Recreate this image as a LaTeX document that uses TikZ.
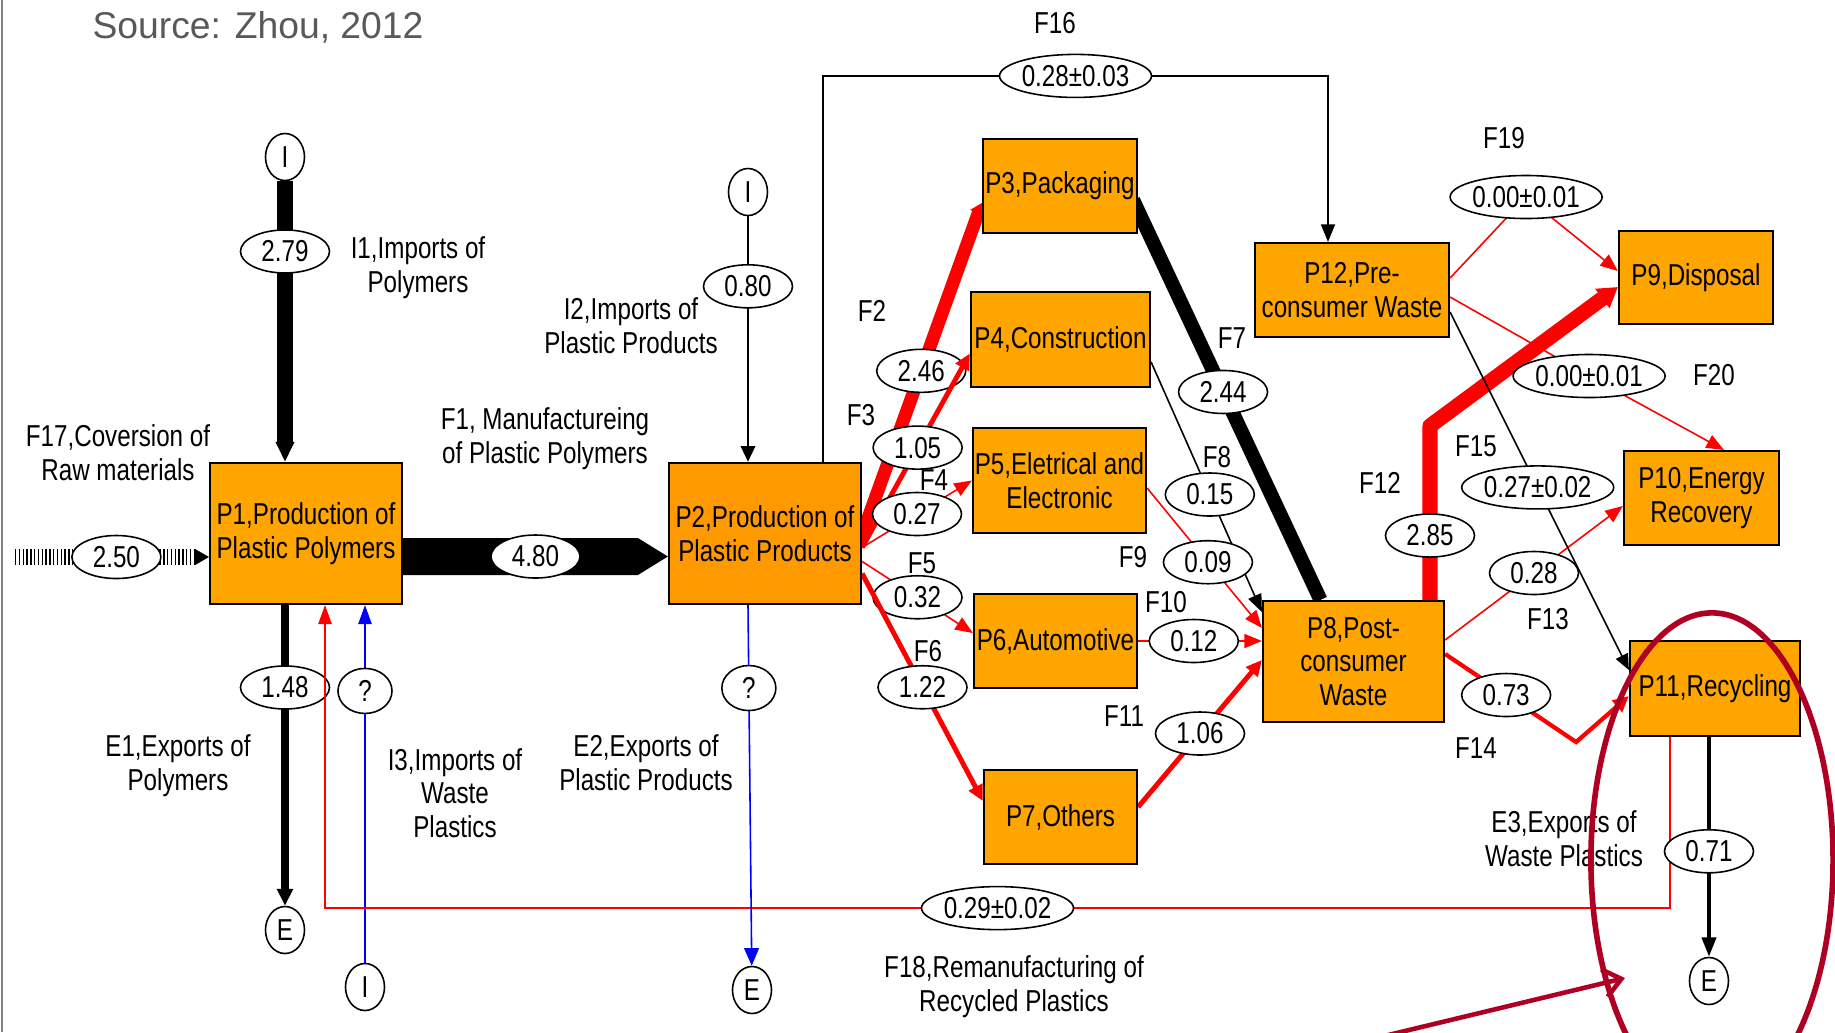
\documentclass[tikz,border=0pt]{standalone}
\usepackage{fontspec}
\setmainfont{Liberation Sans}[FakeStretch=0.8]
\newfontfamily\srcfont{Liberation Sans}
\usetikzlibrary{shapes.geometric,arrows.meta,calc}
\definecolor{procorange}{RGB}{255,165,0}
\definecolor{procdeep}{RGB}{255,153,0}
\definecolor{markred}{RGB}{175,0,35}
\definecolor{srcgray}{RGB}{89,89,89}
\pgfdeclarelayer{bg}
\pgfsetlayers{bg,main}
\tikzset{
  txt/.style={font=\fontsize{8.6}{9.6}\selectfont, align=center, inner sep=0pt},
  proc/.style={txt, draw, line width=0.6pt, fill=procorange},
  val/.style={txt, ellipse, draw=black, text=black, solid, fill=white, line width=0.45pt, minimum width=0.89cm, minimum height=0.43cm},
  wval/.style={val, minimum width=1.5cm},
  io/.style={val, minimum width=0.39cm, minimum height=0.47cm},
  ask/.style={val, minimum width=0.54cm, minimum height=0.45cm},
  flowthin/.style={line width=0.45pt},
  tipthin/.style={-{Triangle[length=5pt,width=4pt]}},
  redthin/.style={flowthin, red, tipthin},
  redmid/.style={red, line width=1.4pt, -{Triangle[length=4.5pt,width=4.2pt]}},
}
\begin{document}
\begin{tikzpicture}[x=0.01cm, y=-0.01cm]
\useasboundingbox (0,0) rectangle (1835,1032);
\draw[gray, line width=0.5pt] (2,0) -- (2,1032);
\node[font=\srcfont\fontsize{10.6}{12}\selectfont, text=srcgray, inner sep=0pt] (src) at (258,27) {Source: Zhou, 2012};

% processes
\node[proc, minimum width=1.92cm, minimum height=1.41cm] (p1) at (306,533.5) {P1,Production of\\Plastic Polymers};
\node[proc, fill=procdeep, minimum width=1.92cm, minimum height=1.41cm] (p2) at (765,533.5) {P2,Production of\\Plastic Products};
\node[proc, minimum width=1.54cm, minimum height=0.94cm] (p3) at (1060,186) {P3,Packaging};
\node[proc, minimum width=1.79cm, minimum height=0.95cm] (p4) at (1060.5,339.5) {P4,Construction};
\node[proc, minimum width=1.73cm, minimum height=1.05cm] (p5) at (1059.5,480.5) {P5,Eletrical and\\Electronic};
\node[proc, minimum width=1.63cm, minimum height=0.94cm] (p6) at (1055.5,641) {P6,Automotive};
\node[proc, minimum width=1.53cm, minimum height=0.94cm] (p7) at (1060.5,817) {P7,Others};
\node[proc, minimum width=1.81cm, minimum height=1.21cm] (p8) at (1353.5,661.5) {P8,Post-\\consumer\\Waste};
\node[proc, minimum width=1.54cm, minimum height=0.93cm] (p9) at (1696,277.5) {P9,Disposal};
\node[proc, minimum width=1.55cm, minimum height=0.94cm] (p10) at (1701.5,498) {P10,Energy\\Recovery};
\node[proc, minimum width=1.70cm, minimum height=0.95cm] (p11) at (1715,688.5) {P11,Recycling};
\node[proc, minimum width=1.94cm, minimum height=0.94cm] (p12) at (1352,290) {P12,Pre-\\consumer Waste};

% imports and exports
\node[io] (vI1) at (285,157) {I};
\node[io] (vI2) at (748,192) {I};
\node[io] (vE1) at (285,930) {E};
\node[io] (vI3) at (365,987) {I};
\node[io] (vE2) at (752,990) {E};
\node[io] (vE3) at (1709,981) {E};

% labels
\node[txt] (li1) at (418,268) {I1,Imports of\\Polymers};
\node[txt] (lf17) at (118,453) {F17,Coversion of\\Raw materials};
\node[txt] (li2) at (631,326) {I2,Imports of\\Plastic Products};
\node[txt] (lf1) at (545,439) {F1, Manufactureing\\of Plastic Polymers};
\node[txt] (le1) at (178,766) {E1,Exports of\\Polymers};
\node[txt] (li3) at (455,793) {I3,Imports of\\Waste\\Plastics};
\node[txt] (le2) at (646,763) {E2,Exports of\\Plastic Products};
\node[txt] (lf18) at (1014,987) {F18,Remanufacturing of\\Recycled Plastics};
\node[txt] (le3) at (1564,839) {E3,Exports of\\Waste Plastics};
\foreach \n/\x/\y in {2/872/311, 3/861/415, 4/934/480, 5/922/563, 6/928/651, 7/1232/338, 8/1217/457, 9/1133/557, 10/1166/602, 11/1124/716, 12/1380/483, 13/1548/619, 14/1476/748, 15/1476/446, 16/1055/23, 19/1504/138, 20/1714/375}
  \node[txt] (lf\n) at (\x,\y) {F\n};

\begin{pgfonlayer}{bg}
% F17 and F1
\coordinate (f17in) at (15,557);
\draw[line width=0.16cm, dash pattern=on 0.42pt off 0.66pt] (f17in) -- ($(f17in -| p1.west)+(-14,0)$);
\draw[line width=0.1pt, -{Triangle[length=4pt,width=4.6pt]}] ($(f17in -| p1.west)+(-15,0)$) -- (f17in -| p1.west);
\path (f17in) -- node[val, pos=0.523] (v250) {2.50} (f17in -| p1.west);
\fill ($(p1.east)+(0,4.5)$) -- ($(p2.west)+(-30,4.5)$) -- ($(p2.west)+(0,23)$) -- ($(p2.west)+(-30,41.5)$) -- ($(p1.east)+(0,41.5)$) -- cycle;
\path ($(p1.east)+(0,23)$) -- node[val] (v480) {4.80} ($(p2.west)+(0,23)$);
% I1, E1, I3, F18
\draw[line width=4.5pt, -{Triangle[length=5.7pt,width=5pt]}] (vI1) -- node[val, pos=0.25] (v279) {2.79} (vI1 |- p1.north);
\draw[line width=2.3pt, -{Triangle[length=4.8pt,width=4.4pt]}] (p1.south -| vE1) -- node[val, pos=0.274] (v148) {1.48} (vE1);
\draw[blue, flowthin, -{Triangle[length=5.4pt,width=3.8pt]}] (vI3) -- node[ask, pos=0.76] (vq1) {?} (vI3 |- p1.south);
\draw[red, flowthin, -{Triangle[length=5.4pt,width=3.8pt]}] ($(p11.south)+(-45,0)$) |- node[wval, pos=0.75] (v18) {0.29±0.02} ($(p1.south)+(19,303)$) -- ($(p1.south)+(19,0)$);
% I2, E2, F16
\draw[line width=0.85pt, -{Triangle[length=4.5pt,width=4pt]}] (vI2) -- node[val, pos=0.285] (v080) {0.80} (vI2 |- p2.north);
\draw[blue, flowthin, -{Triangle[length=5pt,width=4.2pt]}] ($(p2.south)+(-17,0)$) -- node[ask, pos=0.23] (vq2) {?} (vE2);
\draw[flowthin, tipthin] ($(p2.north)+(58,0)$) -- ++(0,-386) -- node[wval] (v16) {0.28±0.03} ++(505,0) -- ($(p12.north)+(-24,0)$);
% F2 to F6
\draw[red, line width=3.7pt, -{Triangle[length=3pt,width=4.8pt]}] ($(p2.east)+(-4,12)$) -- node[val, pos=0.51] (v246) {2.46} ($(p3.west)+(0,17)$);
\draw[redmid] ($(p2.east)+(0,14)$) -- node[val, pos=0.515] (v105) {1.05} ($(p4.west)+(0,14)$);
\draw[redthin] ($(p2.east)+(0,14)$) -- node[val] (v027) {0.27} (p5.west);
\draw[redthin] ($(p2.east)+(0,28)$) -- node[val] (v032) {0.32} ($(p6.west)+(0,-8)$);
\draw[redmid] ($(p2.east)+(0,40)$) -- node[val] (v122) {1.22} ($(p7.west)+(0,-16)$);
% F7 to F11
\draw[line width=4pt] ($(p3.east)+(-5,14)$) -- node[val, pos=0.48] (v244) {2.44} ($(p8.north)+(-33,0)$);
\draw[flowthin, tipthin] ($(p4.east)+(0,22.5)$) -- node[val, pos=0.53] (v015) {0.15} ($(p8.west)+(0,-49.5)$);
\draw[redthin] ($(p5.east)+(0,7.5)$) -- node[val, pos=0.53] (v009) {0.09} ($(p8.west)+(0,-33.5)$);
\draw[redthin] (p6.east) -- node[val, pos=0.45] (v012) {0.12} (p6.east -| p8.west);
\draw[redmid] ($(p7.east)+(0,-10)$) -- node[val] (v106) {1.06} ($(p8.west)+(0,-1.5)$);
% F12 to F15
\draw[red, line width=4.3pt, line join=round, -{Triangle[length=5.5pt,width=6.5pt]}] ($(p8.north)+(76.5,0)$) -- node[val, pos=0.37] (v285) {2.85} ++(0,-174) -- ($(p9.west)+(0,9.5)$);
\draw[redthin] ($(p8.east)+(0,-21.5)$) -- node[val] (v028) {0.28} ($(p10.west)+(0,8)$);
\draw[red, line width=1.2pt, -{Triangle[length=4.5pt,width=4.2pt]}] ($(p8.east)+(0,-7.5)$) -- node[val, pos=0.466] (v073) {0.73} ++(131,88) -- ($(p11.west)+(0,7.5)$);
\draw[flowthin, -{Triangle[length=4.5pt,width=3.8pt]}] ($(p12.east)+(0,22)$) -- node[wval, pos=0.49] (v15) {0.27±0.02} ($(p11.west)+(0,-18.5)$);
% F19, F20, E3
\draw[redthin] ($(p12.east)+(0,-12)$) -- ++(76,-81) node[wval] (v19) {0.00±0.01} -- ($(p9.west)+(0,-6.5)$);
\draw[redthin] ($(p12.east)+(0,7)$) -- ++(139,79) node[wval] (v20) {0.00±0.01} -- ($(p10.north)+(22.5,0)$);
\draw[line width=1.1pt, -{Triangle[length=5.5pt,width=4pt]}] (p11.south -| vE3) -- node[val, pos=0.52] (v071) {0.71} (vE3);
\end{pgfonlayer}

% highlight
\draw[markred, line width=1.6pt] (1712,860) ellipse [x radius=1.21cm, y radius=2.47cm];
\coordinate (markfrom) at (1380,1037);
\coordinate (markto) at (1625,978);
\draw[markred, line width=1.3pt, -{Straight Barb[length=5pt,width=8pt]}] (markfrom) -- (markto);
\end{tikzpicture}
\end{document}
